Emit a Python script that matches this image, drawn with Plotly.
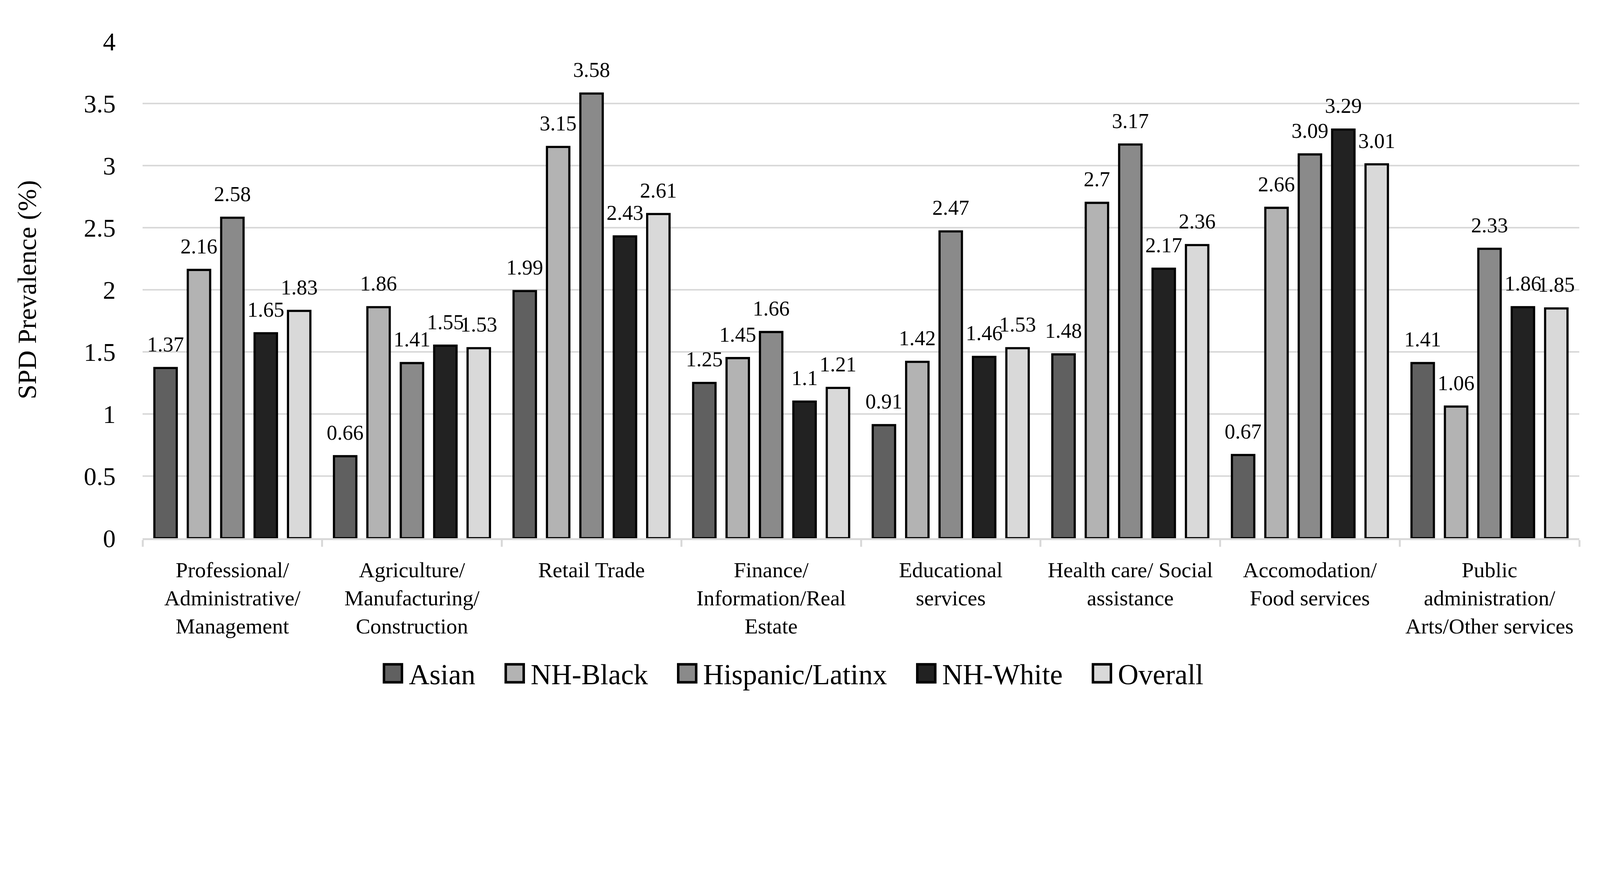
import plotly.graph_objects as go

# Industry groups (x axis)
industries = [
    "Professional/<br>Administrative/<br>Management",
    "Agriculture/<br>Manufacturing/<br>Construction",
    "Retail Trade",
    "Finance/<br>Information/Real<br>Estate",
    "Educational<br>services",
    "Health care/ Social<br>assistance",
    "Accomodation/<br>Food services",
    "Public<br>administration/<br>Arts/Other services",
]

# SPD prevalence (%) per group
asian = [1.37, 0.66, 1.99, 1.25, 0.91, 1.48, 0.67, 1.41]
nh_black = [2.16, 1.86, 3.15, 1.45, 1.42, 2.70, 2.66, 1.06]
hispanic = [2.58, 1.41, 3.58, 1.66, 2.47, 3.17, 3.09, 2.33]
nh_white = [1.65, 1.55, 2.43, 1.10, 1.46, 2.17, 3.29, 1.86]
overall = [1.83, 1.53, 2.61, 1.21, 1.53, 2.36, 3.01, 1.85]

series_names = ["Asian", "NH-Black", "Hispanic/Latinx", "NH-White", "Overall"]
series_values = [asian, nh_black, hispanic, nh_white, overall]
series_colors = ["#606060", "#b3b3b3", "#8a8a8a", "#222222", "#d9d9d9"]

y_ticks = [0, 0.5, 1, 1.5, 2, 2.5, 3, 3.5, 4]

FONT = "Palatino Linotype, Book Antiqua, Palatino, Liberation Serif, serif"
GRID = "#d9d9d9"
BAR_GAP = 0.07

# the browser only gives 4096px of width, so shrink the 5157x2243 layout evenly
S = 4096 / 5157


def px(v):
    return v * S


fig = go.Figure()

# bars
for name, vals, col in zip(series_names, series_values, series_colors):
    fig.add_trace(go.Bar(
        x=industries, y=vals, name=name + "\u00a0" * 3,
        marker=dict(color=col, line=dict(color="black", width=px(7))),
        offsetgroup=name, alignmentgroup="g",
        hoverinfo="skip",
    ))

# value labels, lined up with the bars (invisible marker keeps the gap)
for name, vals in zip(series_names, series_values):
    fig.add_trace(go.Scatter(
        x=industries, y=vals, mode="markers+text",
        text=[str(v) for v in vals], textposition="top center",
        textfont=dict(family=FONT, size=px(68), color="black"),
        marker=dict(size=px(56), color="rgba(0,0,0,0)"),
        offsetgroup=name, alignmentgroup="g", orientation="v",
        showlegend=False, hoverinfo="skip", cliponaxis=False,
    ))

fig.update_layout(
    width=4096, height=round(2243 * S),
    margin=dict(l=px(450), r=px(77), t=px(124), b=px(504)),
    paper_bgcolor="white", plot_bgcolor="white",
    barmode="group", bargap=BAR_GAP, bargroupgap=0.33,
    scattermode="group", scattergap=BAR_GAP,
    font=dict(family=FONT, color="black"),
    legend=dict(
        orientation="h", x=0.459, xanchor="center", y=-0.272, yanchor="middle",
        font=dict(family=FONT, size=px(92), color="black"),
        itemwidth=px(90), traceorder="normal",
    ),
    xaxis=dict(
        tickson="boundaries", ticks="outside", ticklen=px(22), tickwidth=px(6),
        tickcolor=GRID, showline=True, linecolor=GRID, linewidth=px(6),
        showgrid=False, tickfont=dict(family=FONT, size=px(70), color="black"),
        ticklabelstandoff=round(px(35)),
    ),
    yaxis=dict(
        range=[0, 4], tickvals=y_ticks, ticktext=[f"{t:g}" for t in y_ticks],
        showgrid=True, gridcolor=GRID, gridwidth=px(5), zeroline=False,
        showline=False, ticks="", ticklabelstandoff=round(px(85)),
        tickfont=dict(family=FONT, size=px(82), color="black"),
    ),
)

# y axis title
fig.add_annotation(
    text="SPD Prevalence (%)", textangle=-90,
    xref="paper", yref="paper", x=-0.0806, y=0.5,
    xanchor="center", yanchor="middle", showarrow=False,
    font=dict(family=FONT, size=px(86), color="black"),
)

# bigger legend swatches with a heavy outline, like the original
post = """
document.querySelectorAll('.legend .legendpoints path').forEach(function(p){
    p.setAttribute('d', 'M%(w)s,%(h)sH-%(w)sV-%(h)sH%(w)sZ');
    p.style.strokeWidth = '%(lw)spx';
});
""" % {"w": round(px(29), 1), "h": round(px(29), 1), "lw": round(px(8), 1)}

fig.write_html("out.html", post_script=post)
